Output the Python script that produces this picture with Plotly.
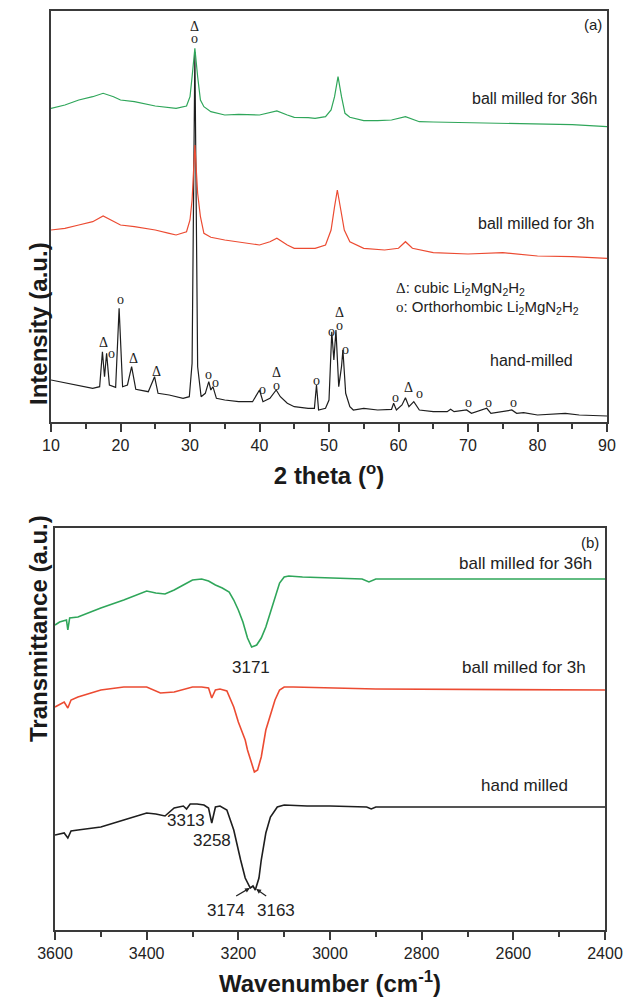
import plotly.graph_objects as go

# ---------------- XRD (panel a) ----------------
xrd_36h_x = [10, 12, 14, 16, 17.5, 19, 20, 22, 25, 27, 28, 29.5, 30.0, 30.3, 30.7, 31.1, 31.5, 32, 33, 35, 37, 40, 41.5, 42.5, 44, 45, 47, 48, 49.5, 50.3, 50.8, 51.3, 51.8, 52.3, 53, 55, 57, 59, 61, 62, 63, 65, 70, 75, 80, 85, 90]
xrd_36h_y = [313.7, 317, 322, 325.3, 328.7, 325.3, 322, 320.3, 316, 314.7, 313.7, 316, 325.3, 345.3, 373.7, 345.3, 322, 315.3, 310.3, 307, 307.7, 307, 309.3, 311, 307, 304.7, 304.3, 303.7, 305.3, 312, 325.3, 345.3, 325.3, 308.7, 304.7, 301.3, 301.3, 302, 305.3, 302.7, 300.3, 300, 299.3, 299.3, 298, 297.3, 295.3]

xrd_3h_x = [10, 12, 14, 16, 17.5, 19, 20, 22, 25, 27, 28, 29.5, 30.0, 30.3, 30.7, 31.1, 31.5, 32, 33, 35, 37, 40, 41.5, 42.5, 44, 45, 47, 48, 49.5, 50.3, 50.8, 51.2, 51.7, 52.2, 53, 55, 58, 60, 61, 62, 65, 70, 75, 80, 85, 90]
xrd_3h_y = [192, 193.7, 197, 200.3, 206, 200.3, 197, 195.3, 192, 188.7, 187, 190.3, 202, 222, 277, 228.7, 205.3, 188.7, 184.7, 182, 180.3, 177, 180.3, 183.7, 177, 173.7, 173.7, 173.7, 177, 192, 215.3, 232, 212, 192, 180.3, 173.7, 172, 173.7, 180.3, 173.7, 169.3, 168, 169.3, 166, 165.3, 163.7]

xrd_hand_x = [10, 12, 14, 16, 17.0, 17.4, 17.7, 18.0, 18.4, 19.3, 19.8, 20.3, 21.0, 21.6, 22.2, 24.0, 24.9, 25.4, 27, 29, 29.9, 30.3, 30.7, 31.1, 31.6, 32.2, 32.7, 33.0, 33.3, 33.8, 35, 37, 39, 40.0, 40.5, 41.5, 42.4, 43, 44, 45, 47, 47.9, 48.2, 48.5, 49.5, 50.0, 50.4, 50.7, 51.0, 51.4, 51.8, 52.0, 52.4, 53, 53.5, 55, 57, 59.0, 59.3, 59.7, 60.5, 61.0, 61.5, 62.2, 63, 65, 67, 67.5, 68, 69.8, 70.5, 72.7, 73.3, 76.3, 77, 78, 80, 84, 86, 90]
xrd_hand_y = [42, 39.3, 37, 33.7, 35.3, 70.3, 45.3, 68.7, 37, 34.7, 113.7, 35.3, 37, 55.3, 32.7, 30.3, 45.3, 28.7, 27, 23.7, 25.3, 58.7, 370, 55.3, 25.3, 28.7, 40.3, 32, 35.3, 23.7, 22, 20.3, 20.3, 32, 20.3, 23.7, 32, 25.3, 18.7, 15.3, 13.7, 13.7, 37, 12, 13.7, 22, 90.3, 62, 92, 35.3, 55.3, 72, 28.7, 15.3, 12, 13.7, 12, 12.7, 18.7, 12, 17, 24.3, 15.3, 20.3, 12, 10.3, 10.3, 12.7, 10.3, 12, 8.7, 13.7, 8.7, 12, 8.7, 9.3, 7, 8.7, 7, 6]

# phase marks on the XRD pattern
sym_x = [30.7, 30.7, 17.6, 18.7, 20.0, 21.8, 25.2, 32.6, 33.7, 40.4, 42.4, 42.4, 48.2, 50.3, 51.5, 51.5, 52.4, 59.5, 61.4, 63.0, 70.0, 72.9, 76.5]
sym_y = [396, 384, 80, 69, 123, 64, 51, 48, 40, 33, 50, 37, 42, 91, 110, 97, 73, 25, 35, 29, 20, 20, 20]
sym_t = ["Δ", "o", "Δ", "o", "o", "Δ", "Δ", "o", "o", "o", "Δ", "o", "o", "o", "Δ", "o", "o", "o", "Δ", "o", "o", "o", "o"]

# ---------------- FTIR (panel b) ----------------
ir_36h_x = [3600, 3590, 3575, 3572, 3568, 3550, 3500, 3450, 3400, 3380, 3360, 3340, 3320, 3300, 3280, 3265, 3250, 3235, 3220, 3210, 3200, 3190, 3180, 3171, 3160, 3150, 3140, 3130, 3120, 3110, 3100, 3090, 3060, 3000, 2930, 2915, 2900, 2800, 2700, 2600, 2500, 2400]
ir_36h_y = [305, 308, 310, 300, 312, 313, 322, 330, 339, 337, 336, 340, 345, 350, 351, 349, 345, 342, 338, 330, 320, 308, 292, 283, 285, 292, 303, 318, 334, 347, 353, 354, 353, 352, 351, 348, 351, 351, 351, 351, 351, 351]

ir_3h_x = [3600, 3580, 3572, 3565, 3550, 3500, 3450, 3400, 3370, 3340, 3300, 3280, 3265, 3258, 3250, 3240, 3225, 3210, 3200, 3185, 3180, 3170, 3165, 3158, 3150, 3140, 3130, 3120, 3110, 3100, 3080, 3000, 2900, 2400]
ir_3h_y = [223, 228, 222, 230, 233, 240, 243, 243, 237, 238, 243, 243, 242, 232, 240, 241, 239, 223, 208, 190, 180, 165, 158, 160, 173, 200, 215, 230, 240, 243, 243, 242, 241, 240]

ir_hand_x = [3600, 3580, 3572, 3565, 3550, 3500, 3450, 3400, 3380, 3360, 3340, 3320, 3313, 3305, 3290, 3275, 3265, 3258, 3250, 3240, 3225, 3210, 3195, 3185, 3174, 3168, 3163, 3155, 3150, 3140, 3130, 3115, 3100, 3050, 3000, 2920, 2910, 2900, 2800, 2400]
ir_hand_y = [95, 97, 92, 99, 100, 103, 110, 117, 116, 114, 122, 124, 121, 126, 126, 125, 122, 107, 123, 124, 120, 100, 70, 52, 42, 44, 40, 52, 70, 97, 113, 123, 125, 124, 124, 123, 121, 123, 123, 123]

GREEN = "#2fa65a"
RED = "#ec4b32"
BLACK = "#1e1e1e"
AXC = "#3a3a3a"
SANS = "Liberation Sans, Arial, sans-serif"
SERIF = "Liberation Serif, Times New Roman, serif"

fig = go.Figure()
fig.add_trace(go.Scatter(x=xrd_hand_x, y=xrd_hand_y, mode="lines", line=dict(color=BLACK, width=1.2), xaxis="x", yaxis="y"))
fig.add_trace(go.Scatter(x=xrd_3h_x, y=xrd_3h_y, mode="lines", line=dict(color=RED, width=1.2), xaxis="x", yaxis="y"))
fig.add_trace(go.Scatter(x=xrd_36h_x, y=xrd_36h_y, mode="lines", line=dict(color=GREEN, width=1.2), xaxis="x", yaxis="y"))
fig.add_trace(go.Scatter(x=ir_hand_x, y=ir_hand_y, mode="lines", line=dict(color=BLACK, width=1.6), xaxis="x2", yaxis="y2"))
fig.add_trace(go.Scatter(x=ir_3h_x, y=ir_3h_y, mode="lines", line=dict(color=RED, width=1.6), xaxis="x2", yaxis="y2"))
fig.add_trace(go.Scatter(x=ir_36h_x, y=ir_36h_y, mode="lines", line=dict(color=GREEN, width=1.6), xaxis="x2", yaxis="y2"))

W, H = 626, 1003
def px(v):
    return v / W
def py(v):
    return 1 - v / H

TF = dict(family=SANS, size=24, color="#1a1a1a")
xcommon = dict(showgrid=False, zeroline=False, showline=True, linecolor=AXC, linewidth=1.5, mirror=True,
               automargin=False, ticks="outside", ticklen=8, tickwidth=1.5, tickcolor=AXC,
               tickfont=dict(family=SANS, size=16, color="#222"))
ycommon = dict(showgrid=False, zeroline=False, showline=True, linecolor=AXC, linewidth=1.5, mirror=True,
               automargin=False, ticks="", showticklabels=False)

fig.update_layout(
    template="none",
    width=W, height=H, margin=dict(l=0, r=0, t=0, b=0, autoexpand=False),
    paper_bgcolor="white", plot_bgcolor="white", showlegend=False,
    xaxis=dict(domain=[px(51), px(607)], range=[10, 90], dtick=10, anchor="y",
               title=dict(text="<b>2 theta (<sup>o</sup>)</b>", font=TF, standoff=14),
               minor=dict(ticks="outside", ticklen=5, tickwidth=1.5, tickcolor=AXC, dtick=5), **xcommon),
    yaxis=dict(domain=[py(422), py(11)], range=[0, 411], anchor="x", **ycommon),
    xaxis2=dict(domain=[px(55), px(605)], range=[3600, 2400], dtick=200, anchor="y2",
                title=dict(text="<b>Wavenumber (cm<sup>-1</sup>)</b>", font=TF, standoff=14),
                minor=dict(ticks="outside", ticklen=5, tickwidth=1.5, tickcolor=AXC, dtick=100), **xcommon),
    yaxis2=dict(domain=[py(930), py(528)], range=[0, 402], anchor="x2", **ycommon),
)

ann = []
# phase marks
for sx, sy, st in zip(sym_x, sym_y, sym_t):
    ann.append(dict(x=sx, y=sy, xref="x", yref="y", text=st, showarrow=False,
                    font=dict(family=SERIF, size=14, color="#222")))

def lab(x, y, t, xr, yr, size, anchor="right", fam=SANS):
    ann.append(dict(x=x, y=y, xref=xr, yref=yr, text=t, showarrow=False, xanchor=anchor, yanchor="middle",
                    font=dict(family=fam, size=size, color="#222")))

lab(89.6, 398, "(a)", "x", "y", 15)
lab(88.9, 324, "ball milled for 36h", "x", "y", 16)
lab(88.6, 199, "ball milled for 3h", "x", "y", 16)
lab(85.4, 62, "hand-milled", "x", "y", 16)
lab(59.3, 134, "<span style='font-family:Liberation Serif'>Δ</span>: cubic Li<sub>2</sub>MgN<sub>2</sub>H<sub>2</sub>", "x", "y", 15, "left")
lab(59.3, 115, "<span style='font-family:Liberation Serif'>o</span>: Orthorhombic Li<sub>2</sub>MgN<sub>2</sub>H<sub>2</sub>", "x", "y", 15, "left")

lab(2408, 388, "(b)", "x2", "y2", 15)
lab(2424, 367, "ball milled for 36h", "x2", "y2", 17)
lab(2437, 263, "ball milled for 3h", "x2", "y2", 17)
lab(2477, 145, "hand milled", "x2", "y2", 17)
lab(3172, 263, "3171", "x2", "y2", 17, "center")
lab(3314, 110, "3313", "x2", "y2", 17, "center")
lab(3258, 90, "3258", "x2", "y2", 17, "center")
lab(3226, 20, "3174", "x2", "y2", 17, "center")
lab(3117, 20, "3163", "x2", "y2", 17, "center")

# arrows pointing to the split minimum
ann.append(dict(x=3175, y=42, ax=3208, ay=33, xref="x2", yref="y2", axref="x2", ayref="y2", text="",
                showarrow=True, arrowhead=2, arrowsize=0.8, arrowwidth=1.2, arrowcolor="#222"))
ann.append(dict(x=3161, y=41, ax=3136, ay=33, xref="x2", yref="y2", axref="x2", ayref="y2", text="",
                showarrow=True, arrowhead=2, arrowsize=0.8, arrowwidth=1.2, arrowcolor="#222"))

# vertical axis titles
ann.append(dict(x=px(23), y=py(240), xref="paper", yref="paper", text="<b>Intensity (a.u.)</b>", showarrow=False, textangle=-90, font=TF))
ann.append(dict(x=px(23), y=py(744), xref="paper", yref="paper", text="<b>Transmittance (a.u.)</b>", showarrow=False, textangle=-90, font=TF))

fig.update_layout(annotations=ann)
fig.write_html("out.html")
